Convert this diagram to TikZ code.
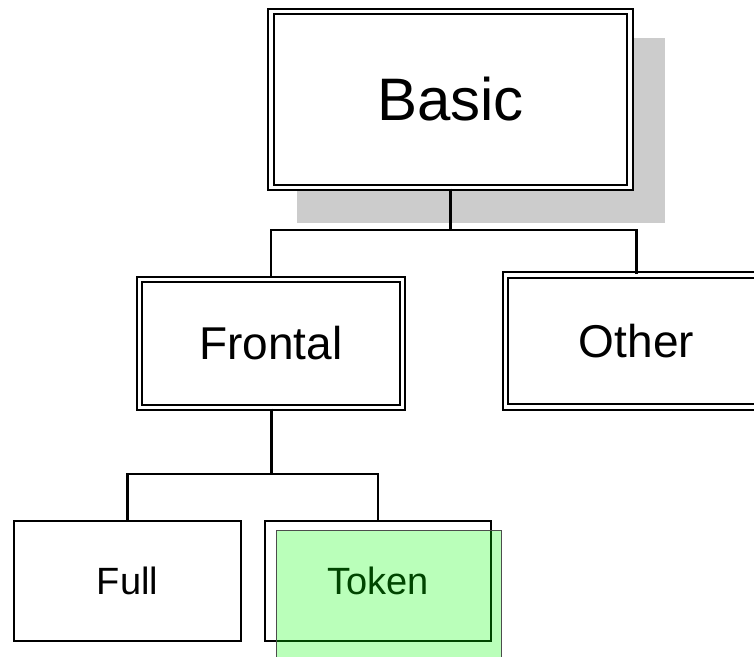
\documentclass[tikz,border=0pt]{standalone}
\usepackage{fontspec}
\setmainfont{Liberation Sans}
\usetikzlibrary{positioning}

\definecolor{shadowgray}{RGB}{204,204,204}
\definecolor{markgreen}{RGB}{0,255,0}

\begin{document}
\begin{tikzpicture}[
  x=1pt, y=-1pt,
  dbox/.style={draw, fill=white, double, double distance=3.2pt, line width=2.2pt, inner sep=0pt},
  leaf/.style={draw, fill=white, line width=2pt, inner sep=0pt,
    minimum width=227pt, minimum height=120pt, font=\fontsize{38}{44}\selectfont},
  link/.style={line width=2.2pt},
  stem/.style={line width=3pt}
]
  \useasboundingbox (0,0) rectangle (754,656);
  \clip (0,0) rectangle (754,656);

  % drop shadow under the root
  \fill[shadowgray] (297,38) rectangle (665,223);

  \node[dbox, minimum width=359pt, minimum height=176pt,
    font=\fontsize{60}{70}\selectfont] (basic) at (450.5,99.5) {Basic};
  \node[dbox, minimum width=263pt, minimum height=128pt,
    font=\fontsize{46}{54}\selectfont] (frontal) at (271,343.5) {Frontal};
  \node[dbox, minimum width=262pt, minimum height=132pt,
    font=\fontsize{46}{54}\selectfont] (other) at (636.5,341) {Other};

  \node[leaf] (full)  at (127.5,581) {Full};
  \node[leaf, minimum width=226pt] (token) at (378,581) {Token};

  % forks
  \coordinate (fork1) at (450.5,230);
  \coordinate (fork2) at (271,474);

  \draw[stem] (basic.south) -- (fork1);
  \draw[link] (fork1) -| (frontal.north);
  \draw[link] (fork1) -| (other.north);

  \draw[stem] (frontal.south) -- (fork2);
  \draw[link] (fork2) -| (full.north);
  \draw[link] (fork2) -| (token.north);

  % highlight laid over the token box
  \filldraw[fill=markgreen, fill opacity=0.27, draw=black!70, line width=0.9pt]
    (276.5,530.5) rectangle (501,664);
\end{tikzpicture}
\end{document}
